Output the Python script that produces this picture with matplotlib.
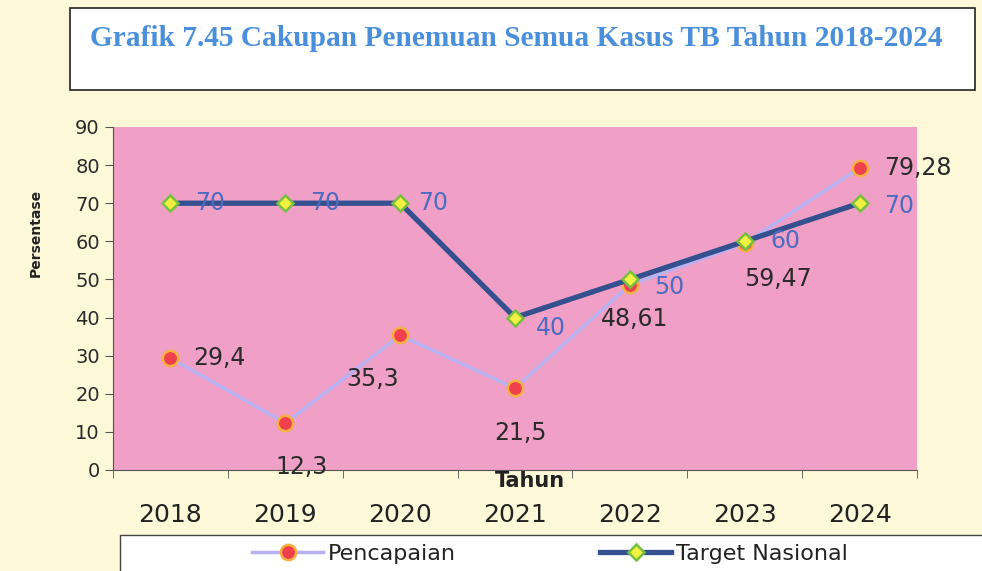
import matplotlib.pyplot as plt
from matplotlib.patches import Rectangle
import numpy as np

# Data
years = ['2018', '2019', '2020', '2021', '2022', '2023', '2024']
pencapaian = [29.4, 12.3, 35.3, 21.5, 48.61, 59.47, 79.28]
target = [70, 70, 70, 40, 50, 60, 70]
pencapaian_labels = ['29,4', '12,3', '35,3', '21,5', '48,61', '59,47', '79,28']
target_labels = ['70', '70', '70', '40', '50', '60', '70']

# label offsets in pixels (dx, dy), styling only
p_off = [(23, 0, 'left'), (16, -44, 'center'), (-28, -44, 'center'), (5, -45, 'center'),
         (5, -34, 'center'), (33, -36, 'center'), (25, 0, 'left')]
t_off = [(25, 0), (25, 0), (18, 0), (21, -10), (24, -8), (26, 0), (25, -3)]

fig = plt.figure(figsize=(9.82, 5.71), dpi=100)
fig.patch.set_facecolor('#fdf8d8')

# title box
fig.patches.append(Rectangle((0.0713, 0.842), 0.9216, 0.144, transform=fig.transFigure,
                             facecolor='white', edgecolor='#222222', lw=1.2, zorder=0))
fig.text(0.092, 0.933, 'Grafik 7.45 Cakupan Penemuan Semua Kasus TB Tahun 2018-2024',
         family=['Liberation Serif', 'DejaVu Serif'], weight='bold', fontsize=21.2,
         color='#4a8fdc', va='center', ha='left')

ax = fig.add_axes([0.1151, 0.1769, 0.8187, 0.6007])
ax.set_facecolor('#f0a0c6')
x = np.arange(len(years))

ax.plot(x, pencapaian, color='#b8b2f2', lw=2.5, marker='o', markersize=11,
        markerfacecolor='#f0404e', markeredgecolor='#f6b040', markeredgewidth=1.8, zorder=3,
        label='Pencapaian')
ax.plot(x, target, color='#34508e', lw=3.8, marker='D', markersize=8.5,
        markerfacecolor='#f2f040', markeredgecolor='#78c040', markeredgewidth=1.8, zorder=4,
        label='Target Nasional')

for i in range(len(years)):
    dx, dy, ha = p_off[i]
    ax.annotate(pencapaian_labels[i], (x[i], pencapaian[i]), xytext=(dx, dy),
                textcoords='offset pixels', ha=ha, va='center', fontsize=17,
                color='#2a2a2a', zorder=5)
    dx, dy = t_off[i]
    ax.annotate(target_labels[i], (x[i], target[i]), xytext=(dx, dy),
                textcoords='offset pixels', ha='left', va='center', fontsize=17,
                color='#4d6cc0', zorder=5)

ax.set_xlim(-0.5, len(years) - 0.5)
ax.set_ylim(0, 90)
ax.set_yticks(range(0, 91, 10))
ax.set_xticks(x)
ax.set_xticklabels(years, fontsize=18, color='#222222')
ax.set_xticks(np.arange(-0.5, len(years)), minor=True)
ax.tick_params(axis='x', which='major', length=0, pad=24)
ax.tick_params(axis='x', which='minor', length=6, color='#555555')
ax.tick_params(axis='y', labelsize=14, length=6, color='#555555')
for lbl in ax.get_yticklabels():
    lbl.set_color('#2a2a2a')

for s in ['top', 'right']:
    ax.spines[s].set_visible(False)
ax.spines['left'].set_color('#555555')
ax.spines['bottom'].set_color('#555555')

fig.text(0.036, 0.592, 'Persentase', rotation=90, fontsize=10, weight='bold',
         ha='center', va='center', color='#222222')
fig.text(0.54, 0.158, 'Tahun', fontsize=15, weight='bold', ha='center', va='center',
         color='#222222')

# legend box
fig.patches.append(Rectangle((0.122, -0.01), 0.88, 0.073, transform=fig.transFigure,
                             facecolor='white', edgecolor='#444444', lw=1.0, zorder=0))
leg = fig.legend(loc='center', bbox_to_anchor=(0.56, 0.03), ncol=2, frameon=False,
                 prop={'size': 16}, columnspacing=6.5, handlelength=3.2,
                 handletextpad=0.2)
for t in leg.get_texts():
    t.set_color('#222222')

fig.savefig('out.png', dpi=100, facecolor=fig.get_facecolor())
